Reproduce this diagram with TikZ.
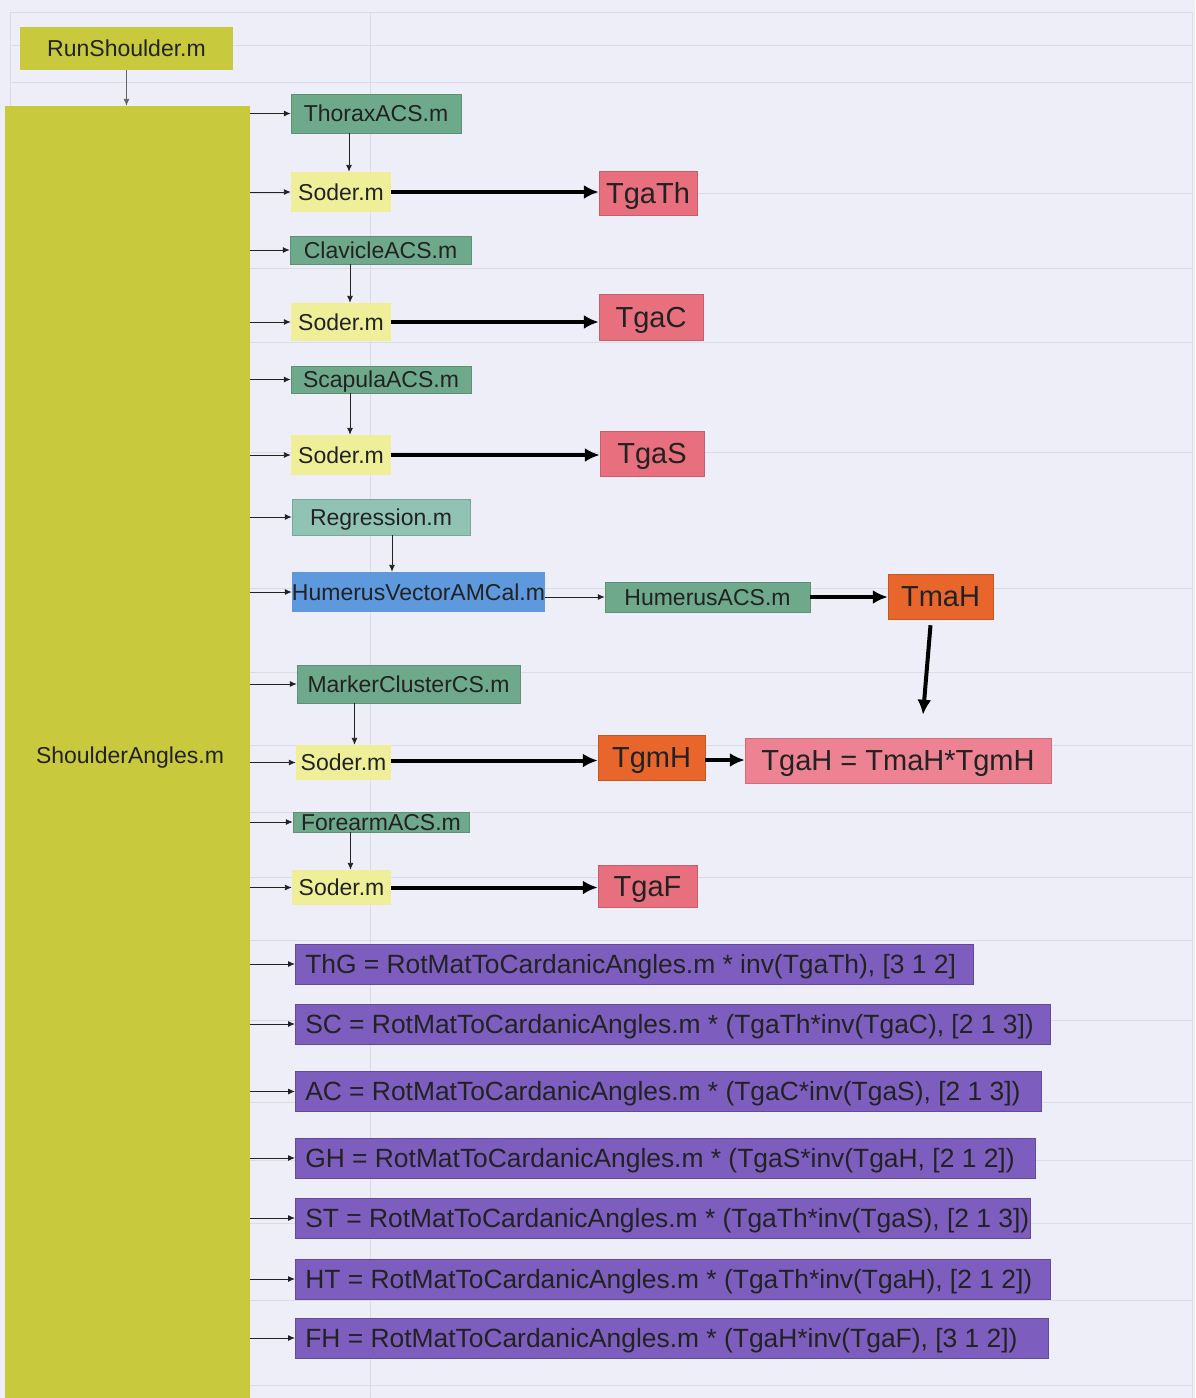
\documentclass[tikz,border=0pt]{standalone}
\usepackage{fontspec}
\setmainfont{Liberation Sans}
\usetikzlibrary{arrows.meta,calc}
\definecolor{page}{HTML}{EEEEF8}
\definecolor{rule}{HTML}{DCDCE8}
\definecolor{olive}{HTML}{C9C93E}
\definecolor{soder}{HTML}{EFEF9A}
\definecolor{acs}{HTML}{6FA98B}
\definecolor{regr}{HTML}{90C3B3}
\definecolor{humblue}{HTML}{5D99DC}
\definecolor{tga}{HTML}{E8707E}
\definecolor{tgah}{HTML}{EC8292}
\definecolor{tma}{HTML}{E8662C}
\definecolor{cardan}{HTML}{7D5EBF}
\definecolor{ink}{HTML}{222222}
\tikzset{
  sz/.style 2 args={minimum width=#1pt, minimum height=#2pt},
  box/.style={inner sep=0pt, text=ink, font=\fontsize{23}{23}\selectfont,
    text height=16.5pt, text depth=0pt},
  script/.style={box, fill=olive},
  acsbox/.style={box, fill=acs, draw=acs!85!black, line width=0.5pt},
  soderbox/.style={box, fill=soder},
  tbox/.style={box, fill=#1, draw=#1!85!black, line width=0.5pt,
    font=\fontsize{29}{29}\selectfont, text height=20.8pt},
  anglebox/.style={box, fill=cardan, draw=cardan!80!black, line width=0.5pt,
    font=\fontsize{26.4}{26.4}\selectfont, text height=18.9pt, inner xsep=10pt, anchor=west},
  link/.style={draw=ink, line width=0.9pt, -{Latex[length=7pt,width=6pt]}},
  flow/.style={draw=black, line width=4pt, -{Latex[length=15pt,width=14pt]}},
  gridline/.style={draw=rule, line width=1pt},
}
\begin{document}
\begin{tikzpicture}[x=1pt,y=-1pt]
  \useasboundingbox (0,0) rectangle (1195,1398);
  \fill[page] (0,0) rectangle (1195,1398);
  % faint table behind the chart
  \foreach \gy in {12,45,82,193,268,342,452,588,672,745,812,877,940,1020,1102,1160,1223,1300,1385}
    \draw[gridline] (10,\gy) -- (1192,\gy);
  \foreach \gx in {10,370,1192}
    \draw[gridline] (\gx,12) -- (\gx,1398);

  \node[script, sz={213}{43}] (run) at (126.5,48.5) {RunShoulder.m};
  \node[script, sz={245}{1292}] (main) at (127.5,752) {};
  \node[box] (mainlabel) at (130,755) {ShoulderAngles.m};
  \draw[link, draw=ink!70] (run) -- (run |- main.north);

  % segment frames
  \node[acsbox, sz={170}{39}] (thorax) at (376,113.5) {ThoraxACS.m};
  \node[soderbox, sz={100}{40}] (soderA) at (341,192) {Soder.m};
  \node[tbox=tga, sz={98}{44}] (tgath) at (648,193) {TgaTh};
  \node[acsbox, sz={181}{28}] (clavicle) at (380.5,250) {ClavicleACS.m};
  \node[soderbox, sz={100}{38}] (soderB) at (341,322) {Soder.m};
  \node[tbox=tga, sz={104}{46}] (tgac) at (651,317) {TgaC};
  \node[acsbox, sz={180}{27}] (scapula) at (381,379.5) {ScapulaACS.m};
  \node[soderbox, sz={100}{40}] (soderC) at (341,455) {Soder.m};
  \node[tbox=tga, sz={104}{45}] (tgas) at (652,453.5) {TgaS};
  \node[acsbox, fill=regr, draw=regr!85!black, sz={178}{36}] (regression) at (381,517) {Regression.m};
  \node[box, fill=humblue, sz={253}{40}] (humvec) at (418.5,592) {HumerusVectorAMCal.m};
  \node[acsbox, sz={205}{30}] (humacs) at (707.5,597) {HumerusACS.m};
  \node[tbox=tma, sz={105}{45}] (tmah) at (940.5,596.5) {TmaH};
  \node[acsbox, sz={223}{38}] (marker) at (408.5,684) {MarkerClusterCS.m};
  \node[soderbox, sz={95}{35}] (soderD) at (343.5,762.5) {Soder.m};
  \node[tbox=tma, sz={107}{45}] (tgmh) at (651.5,757.5) {TgmH};
  \node[tbox=tgah, sz={306}{45}] (tgah) at (898,760.5) {TgaH = TmaH*TgmH};
  \node[acsbox, sz={176}{20}] (forearm) at (381,822) {ForearmACS.m};
  \node[soderbox, sz={99}{35}] (soderE) at (341.5,887.5) {Soder.m};
  \node[tbox=tga, sz={99}{42}] (tgaf) at (647.5,886) {TgaF};

  \foreach \n in {thorax,soderA,clavicle,soderB,scapula,soderC,regression,humvec,marker,soderD,forearm,soderE}
    \draw[link] (main.east |- \n) -- (\n.west |- \n);

  \draw[link] ([xshift=8pt]soderA.north |- thorax.south) -- ([xshift=8pt]soderA.north);
  \draw[link] ([xshift=9pt]soderB.north |- clavicle.south) -- ([xshift=9pt]soderB.north);
  \draw[link] ([xshift=9pt]soderC.north |- scapula.south) -- ([xshift=9pt]soderC.north);
  \draw[link] ([xshift=11pt]regression.south) -- ([xshift=11pt]regression.south |- humvec.north);
  \draw[link] ([xshift=11pt]soderD.north |- marker.south) -- ([xshift=11pt]soderD.north);
  \draw[link] ([xshift=9pt]soderE.north |- forearm.south) -- ([xshift=9pt]soderE.north);
  \draw[link] (humvec.east |- humacs) -- (humacs.west);

  \draw[flow] (soderA.east) -- (soderA.east -| tgath.west);
  \draw[flow] (soderB.east) -- (soderB.east -| tgac.west);
  \draw[flow] (soderC.east) -- (soderC.east -| tgas.west);
  \draw[flow] (soderE.east) -- (soderE.east -| tgaf.west);
  \draw[flow] ([yshift=2pt]soderD.east) -- ([yshift=2pt]soderD.east -| tgmh.west);
  \draw[flow] (tgmh.east |- 0,760) -- (tgah.west |- 0,760);
  \draw[flow] (humacs.east) -- (humacs.east -| tmah.west);
  \draw[flow] ([xshift=-10pt,yshift=-6pt]tmah.south) -- ([xshift=25pt,yshift=23pt]tgah.north);

  % cardan angle sequences
  \foreach \n/\xr/\yc/\txt in {
      thg/973/964/{ThG = RotMatToCardanicAngles.m * inv(TgaTh), [3 1 2]},
      sc/1050/1024/{SC = RotMatToCardanicAngles.m * (TgaTh*inv(TgaC), [2 1 3])},
      ac/1041/1091.5/{AC = RotMatToCardanicAngles.m * (TgaC*inv(TgaS), [2 1 3])},
      gh/1035/1158/{GH = RotMatToCardanicAngles.m * (TgaS*inv(TgaH, [2 1 2])},
      st/1030/1218/{ST = RotMatToCardanicAngles.m * (TgaTh*inv(TgaS), [2 1 3])},
      ht/1050/1279/{HT = RotMatToCardanicAngles.m * (TgaTh*inv(TgaH), [2 1 2])},
      fh/1048/1338/{FH = RotMatToCardanicAngles.m * (TgaH*inv(TgaF), [3 1 2])}} {
    \pgfmathsetmacro\tw{\xr-315}
    \node[anglebox, minimum height=40pt] (\n) at (295,\yc) {\makebox[\tw pt][l]{\txt}};
    \draw[link] (main.east |- \n) -- (\n.west);
  }
\end{tikzpicture}
\end{document}
